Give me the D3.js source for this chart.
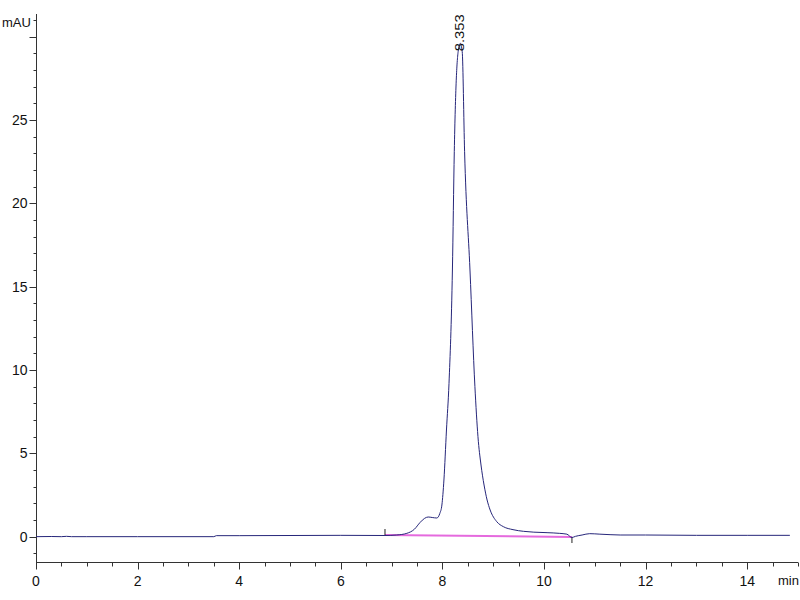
<!DOCTYPE html>
<html>
<head>
<meta charset="utf-8">
<script src="https://cdn.jsdelivr.net/npm/d3@7"></script>
<style>
  html, body { margin: 0; padding: 0; background: #fff; }
  svg { display: block; }
  text { font-family: "Liberation Sans Narrow", "Arial Narrow", "Liberation Sans", Arial, sans-serif; fill: #111; }
</style>
</head>
<body>
<svg id="chart" width="800" height="600"></svg>
<script>
// ---- data ----
const times = [0, 0.3, 0.5, 0.6, 0.7, 1.0, 2.0, 3.5, 3.55, 4.0, 5.0, 6.0, 6.87, 7.1, 7.3, 7.45, 7.56, 7.65, 7.72, 7.8, 7.89, 7.95, 7.99, 8.03, 8.08, 8.13, 8.197, 8.234, 8.31, 8.353, 8.39, 8.437, 8.543, 8.64, 8.70, 8.76, 8.82, 8.88, 8.94, 9.07, 9.2, 9.39, 9.6, 9.8, 10.06, 10.3, 10.45, 10.55, 10.62, 10.75, 10.9, 11.1, 11.3, 11.5, 12, 13, 14, 14.84];
const signal = [0.0, 0.01, 0.0, 0.02, 0.0, 0.0, 0.0, 0.0, 0.06, 0.06, 0.07, 0.08, 0.07, 0.1, 0.2, 0.45, 0.85, 1.1, 1.18, 1.15, 1.12, 1.4, 1.9, 3.4, 6.4, 9.2, 16.0, 23.1, 29.1, 29.6, 29.1, 23.1, 16.0, 9.0, 6.0, 4.3, 3.1, 2.2, 1.6, 0.9, 0.6, 0.42, 0.32, 0.27, 0.24, 0.2, 0.15, -0.05, 0.02, 0.1, 0.18, 0.15, 0.12, 0.1, 0.1, 0.08, 0.08, 0.08];
const peakLabel = "8.353";
const peakTime = 8.353;
const peakHeight = 29.6;
const baselineTimes = [6.87, 10.55];
const baselineValues = [0.1, -0.02];
const xMajorTicks = [0, 2, 4, 6, 8, 10, 12, 14];
const xMinorTicks = d3.range(0, 15.01, 0.5);
const yMajorTicks = [0, 5, 10, 15, 20, 25, 30];
const yLabeledTicks = [0, 5, 10, 15, 20, 25];
const yMinorTicks = d3.range(-1, 31.01, 1);
const xUnit = "min";
const yUnit = "mAU";

// ---- layout ----
const svg = d3.select("#chart");
const x = d3.scaleLinear().domain([0, 15]).range([36, 798]);
const y = d3.scaleLinear().domain([-1.52, 31.36]).range([562, 14]);

const axisColor = "#333";

// y axis
const gy = svg.append("g").attr("transform", "translate(36.5,0)");
gy.append("line").attr("x1", 0).attr("x2", 0).attr("y1", y.range()[1]).attr("y2", y.range()[0]).attr("stroke", axisColor);
gy.selectAll("line.minor").data(yMinorTicks).join("line")
  .attr("class", "minor")
  .attr("x1", -3).attr("x2", 0)
  .attr("y1", d => Math.round(y(d)) + 0.5).attr("y2", d => Math.round(y(d)) + 0.5)
  .attr("stroke", axisColor);
gy.selectAll("line.major").data(yMajorTicks).join("line")
  .attr("class", "major")
  .attr("x1", -7).attr("x2", 0)
  .attr("y1", d => Math.round(y(d)) + 0.5).attr("y2", d => Math.round(y(d)) + 0.5)
  .attr("stroke", axisColor);
gy.selectAll("text.tl").data(yLabeledTicks).join("text")
  .attr("class", "tl")
  .attr("x", -9).attr("y", d => y(d))
  .attr("dy", "0.36em")
  .attr("text-anchor", "end")
  .attr("font-size", 14)
  .text(d => d);
svg.append("text").attr("x", 2).attr("y", 27).attr("font-size", 13).text(yUnit);

// x axis
const gx = svg.append("g").attr("transform", "translate(0,562.5)");
gx.append("line").attr("x1", x.range()[0]).attr("x2", x.range()[1]).attr("y1", 0).attr("y2", 0).attr("stroke", axisColor);
gx.selectAll("line.minor").data(xMinorTicks).join("line")
  .attr("class", "minor")
  .attr("y1", 0).attr("y2", 4)
  .attr("x1", d => Math.round(x(d)) + 0.5).attr("x2", d => Math.round(x(d)) + 0.5)
  .attr("stroke", axisColor);
gx.selectAll("line.major").data(xMajorTicks).join("line")
  .attr("class", "major")
  .attr("y1", 0).attr("y2", 7)
  .attr("x1", d => Math.round(x(d)) + 0.5).attr("x2", d => Math.round(x(d)) + 0.5)
  .attr("stroke", axisColor);
gx.selectAll("text.tl").data(xMajorTicks).join("text")
  .attr("class", "tl")
  .attr("x", d => x(d)).attr("y", 23)
  .attr("text-anchor", "middle")
  .attr("font-size", 14)
  .text(d => d);
svg.append("text").attr("x", 778).attr("y", 585).attr("font-size", 13).text(xUnit);

// integration baseline
const bl = baselineTimes.map((t, i) => [t, baselineValues[i]]);
svg.append("line")
  .attr("x1", x(bl[0][0])).attr("y1", y(bl[0][1]))
  .attr("x2", x(bl[1][0])).attr("y2", y(bl[1][1]))
  .attr("stroke", "#e050d8").attr("stroke-width", 2).attr("stroke-opacity", 0.85);
// baseline end markers
svg.append("line")
  .attr("x1", x(bl[0][0])).attr("x2", x(bl[0][0]))
  .attr("y1", y(bl[0][1]) - 6).attr("y2", y(bl[0][1]))
  .attr("stroke", "#222");
svg.append("line")
  .attr("x1", x(bl[1][0])).attr("x2", x(bl[1][0]))
  .attr("y1", y(bl[1][1])).attr("y2", y(bl[1][1]) + 6)
  .attr("stroke", "#222");

// signal trace
const pts = times.map((t, i) => [t, signal[i]]);
const line = d3.line().x(d => x(d[0])).y(d => y(d[1])).curve(d3.curveMonotoneX);
svg.append("path").datum(pts)
  .attr("d", line)
  .attr("fill", "none")
  .attr("stroke", "#26267a")
  .attr("stroke-width", 1);

// peak label
const lx = x(peakTime) + 4;
const ly = y(peakHeight) + 8;
svg.append("text")
  .attr("transform", `translate(${lx},${ly}) rotate(-90)`)
  .attr("font-size", 13)
  .attr("font-family", "'Liberation Sans', Arial, sans-serif")
  .attr("textLength", 37)
  .attr("lengthAdjust", "spacingAndGlyphs")
  .text(peakLabel);
</script>
</body>
</html>
